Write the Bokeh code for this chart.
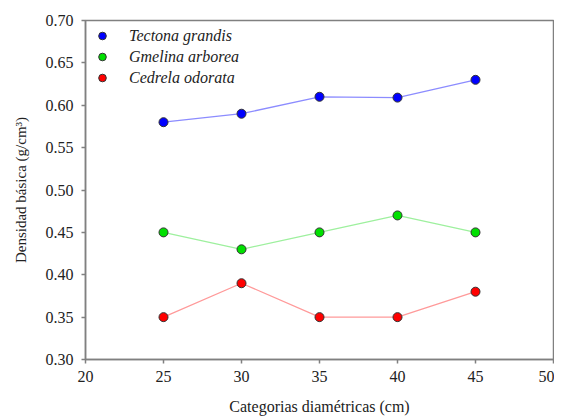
from bokeh.plotting import figure
from bokeh.models import Legend, LegendItem, FixedTicker, NumeralTickFormatter
from bokeh.embed import file_html
from bokeh.resources import INLINE

diametros = [25, 30, 35, 40, 45]
tectona = [0.58, 0.59, 0.61, 0.609, 0.63]
gmelina = [0.45, 0.43, 0.45, 0.47, 0.45]
cedrela = [0.35, 0.39, 0.35, 0.35, 0.38]
x_ticks = [20, 25, 30, 35, 40, 45, 50]
y_ticks = [0.30, 0.35, 0.40, 0.45, 0.50, 0.55, 0.60, 0.65, 0.70]

FONT = "Liberation Serif"

p = figure(width=554, height=418, x_range=(20, 50), y_range=(0.30, 0.70),
           output_backend="svg", toolbar_location=None,
           min_border_left=85, min_border_right=1, min_border_top=20, min_border_bottom=59)

series = [
    ("Tectona grandis", tectona, "#0000ff", "#8c8cff"),
    ("Gmelina arborea", gmelina, "#00e000", "#9ef09e"),
    ("Cedrela odorata", cedrela, "#ff0000", "#ff9a9a"),
]
items = []
for name, vals, fill, line in series:
    p.line(diametros, vals, line_color=line, line_width=1.3)
    r = p.scatter(diametros, vals, size=9, fill_color=fill, line_color="#333333", line_width=1)
    items.append(LegendItem(label=name, renderers=[r]))

legend = Legend(items=items, location=(7, 272), margin=0, padding=7,
                glyph_width=20, glyph_height=19, label_height=19, spacing=2,
                label_standoff=17, border_line_color=None, background_fill_alpha=0,
                label_text_font=FONT, label_text_font_style="italic",
                label_text_font_size="16px", label_text_color="#222222")
p.add_layout(legend)

p.grid.visible = False
p.outline_line_color = "#808080"
p.outline_line_width = 1.5

p.xaxis.ticker = FixedTicker(ticks=x_ticks)
p.yaxis.ticker = FixedTicker(ticks=y_ticks)
p.yaxis.formatter = NumeralTickFormatter(format="0.00")

for ax in (p.xaxis[0], p.yaxis[0]):
    ax.axis_line_color = "#808080"
    ax.axis_line_width = 1.5
    ax.major_tick_line_color = "#808080"
    ax.major_tick_line_width = 1.5
    ax.major_tick_out = 4
    ax.major_tick_in = 0
    ax.minor_tick_line_color = None
    ax.major_label_text_font = FONT
    ax.major_label_text_font_size = "16px"
    ax.major_label_text_color = "#222222"
    ax.axis_label_text_font = FONT
    ax.axis_label_text_font_size = "15px"
    ax.axis_label_text_font_style = "normal"
    ax.axis_label_text_color = "#222222"

p.xaxis.axis_label = "Categorias diamétricas (cm)"
p.xaxis.axis_label_text_font_size = "16px"
p.yaxis.axis_label = "Densidad básica (g/cm³)"
p.xaxis.major_label_standoff = 7
p.xaxis.axis_label_standoff = 13
p.yaxis.major_label_standoff = 8
p.yaxis.axis_label_standoff = 14

open("out.html", "w").write(file_html(p, INLINE))
